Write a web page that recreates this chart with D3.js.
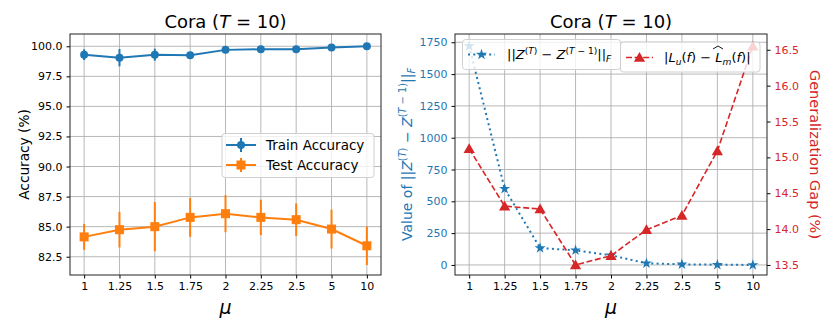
<!DOCTYPE html>
<html>
<head>
<meta charset="utf-8">
<script src="https://cdn.jsdelivr.net/npm/d3@7"></script>
<style>
  body { margin: 0; background: #fff; }
  text { font-family: "DejaVu Sans", sans-serif; }
</style>
</head>
<body>
<svg id="fig" width="830" height="332"></svg>
<script>
// values
let muLabels = ["1", "1.25", "1.5", "1.75", "2", "2.25", "2.5", "5", "10"];
let trainAcc = [99.3, 99.05, 99.3, 99.25, 99.7, 99.75, 99.75, 99.9, 100.0];
let trainErr = [0.45, 0.72, 0.5, 0.2, 0.1, 0.1, 0.1, 0.08, 0.05];
let testAcc = [84.15, 84.75, 85.0, 85.77, 86.08, 85.77, 85.58, 84.8, 83.41];
let testErr = [1.08, 1.48, 2.05, 1.62, 1.54, 1.47, 1.35, 1.62, 1.6];
let diffNorm = [1720, 599, 133, 115, 76, 13, 5, 2, 0];
let genGap = [15.12, 14.32, 14.28, 13.5, 13.63, 13.99, 14.19, 15.09, 16.55];

let accTicks = [82.5, 85.0, 87.5, 90.0, 92.5, 95.0, 97.5, 100.0];
let normTicks = [0, 250, 500, 750, 1000, 1250, 1500, 1750];
let gapTicks = [13.5, 14.0, 14.5, 15.0, 15.5, 16.0, 16.5];

let blue = "#1f77b4", orange = "#ff7f0e", red = "#d62728";
let gridColor = "#b0b0b0";

let svg = d3.select("#fig");

let plotTop = 34, plotBottom = 275;
let leftBox = {x0: 70, x1: 381};
let rightBox = {x0: 455, x1: 767};

// writes a text made of pieces: {t, it, sup, sub}
function mathText(sel, parts, size) {
    let shift = 0;
    parts.forEach(function (p) {
        let target = p.sup ? -0.42 * size : (p.sub ? 0.22 * size : 0);
        sel.append("tspan")
            .attr("dy", target - shift)
            .style("font-size", (p.sup || p.sub) ? (size * 0.7) + "px" : size + "px")
            .style("font-style", p.it ? "italic" : "normal")
            .text(p.t);
        shift = target;
    });
}

function grid(g, x, y, n, yTicks, x0, x1) {
    for (let i = 0; i < n; i++) {
        g.append("line")
            .attr("x1", x(i)).attr("x2", x(i))
            .attr("y1", plotTop).attr("y2", plotBottom)
            .attr("stroke", gridColor).attr("stroke-width", 0.9);
    }
    yTicks.forEach(function (t) {
        g.append("line")
            .attr("x1", x0).attr("x2", x1)
            .attr("y1", y(t)).attr("y2", y(t))
            .attr("stroke", gridColor).attr("stroke-width", 0.9);
    });
}

function frame(g, x0, x1) {
    g.append("rect")
        .attr("x", x0).attr("y", plotTop)
        .attr("width", x1 - x0).attr("height", plotBottom - plotTop)
        .attr("fill", "none").attr("stroke", "#222").attr("stroke-width", 1);
}

function xAxis(g, x) {
    let ax = g.append("g")
        .attr("transform", "translate(0," + plotBottom + ")")
        .call(d3.axisBottom(x).tickValues(d3.range(muLabels.length))
            .tickFormat(function (i) { return muLabels[i]; })
            .tickSizeOuter(0).tickSize(3.5).tickPadding(4));
    ax.select(".domain").remove();
    ax.selectAll("text").style("font-size", "11px").attr("fill", "#000");
}

function title(cx) {
    let t = svg.append("text")
        .attr("x", cx).attr("y", 27.5)
        .attr("text-anchor", "middle");
    mathText(t, [{t: "Cora ("}, {t: "T", it: true}, {t: " = 10)"}], 18);
}

function muLabel(cx) {
    svg.append("text")
        .attr("x", cx).attr("y", 314)
        .attr("text-anchor", "middle")
        .style("font-size", "19px").style("font-style", "italic")
        .text("μ");
}

// ---------- left panel ----------
let x1 = d3.scaleLinear().domain([-0.4, 8.4]).range([leftBox.x0, leftBox.x1]);
let yAcc = d3.scaleLinear().domain([80.98, 101.02]).range([plotBottom, plotTop]);

let g1 = svg.append("g");
grid(g1, x1, yAcc, muLabels.length, accTicks, leftBox.x0, leftBox.x1);

let yAx1 = g1.append("g")
    .attr("transform", "translate(" + leftBox.x0 + ",0)")
    .call(d3.axisLeft(yAcc).tickValues(accTicks).tickFormat(d3.format(".1f"))
        .tickSizeOuter(0).tickSize(3.5).tickPadding(4));
yAx1.select(".domain").remove();
yAx1.selectAll("text").style("font-size", "11px").attr("fill", "#000");
xAxis(g1, x1);

function errSeries(g, vals, errs, color, marker) {
    let line = d3.line().x(function (d, i) { return x1(i); }).y(function (d) { return yAcc(d); });
    g.append("path").datum(vals)
        .attr("d", line).attr("fill", "none")
        .attr("stroke", color).attr("stroke-width", 2);
    vals.forEach(function (v, i) {
        g.append("line")
            .attr("x1", x1(i)).attr("x2", x1(i))
            .attr("y1", yAcc(v - errs[i])).attr("y2", yAcc(v + errs[i]))
            .attr("stroke", color).attr("stroke-width", 2);
        if (marker === "circle") {
            g.append("circle").attr("cx", x1(i)).attr("cy", yAcc(v)).attr("r", 4).attr("fill", color);
        } else {
            g.append("rect").attr("x", x1(i) - 4.5).attr("y", yAcc(v) - 4.5)
                .attr("width", 9).attr("height", 9).attr("fill", color);
        }
    });
}
errSeries(g1, trainAcc, trainErr, blue, "circle");
errSeries(g1, testAcc, testErr, orange, "square");
frame(g1, leftBox.x0, leftBox.x1);

// legend
let lg1 = svg.append("g");
lg1.append("rect")
    .attr("x", 222).attr("y", 133.5).attr("width", 152).attr("height", 44).attr("rx", 3)
    .attr("fill", "#fff").attr("fill-opacity", 0.8).attr("stroke", "#d0d0d0");
[["Train Accuracy", blue, "circle", 145], ["Test Accuracy", orange, "square", 165]].forEach(function (e) {
    let y = e[3];
    lg1.append("line").attr("x1", 226).attr("x2", 256).attr("y1", y).attr("y2", y)
        .attr("stroke", e[1]).attr("stroke-width", 2);
    lg1.append("line").attr("x1", 241).attr("x2", 241).attr("y1", y - 7).attr("y2", y + 7)
        .attr("stroke", e[1]).attr("stroke-width", 2);
    if (e[2] === "circle") {
        lg1.append("circle").attr("cx", 241).attr("cy", y).attr("r", 4).attr("fill", e[1]);
    } else {
        lg1.append("rect").attr("x", 236.5).attr("y", y - 4.5).attr("width", 9).attr("height", 9).attr("fill", e[1]);
    }
    lg1.append("text").attr("x", 266).attr("y", y + 5)
        .style("font-size", "13.5px").text(e[0]);
});

title((leftBox.x0 + leftBox.x1) / 2);
muLabel((leftBox.x0 + leftBox.x1) / 2);
svg.append("text")
    .attr("transform", "translate(29," + ((plotTop + plotBottom) / 2) + ") rotate(-90)")
    .attr("text-anchor", "middle")
    .style("font-size", "13.7px")
    .text("Accuracy (%)");

// ---------- right panel ----------
let x2 = d3.scaleLinear().domain([-0.4, 8.4]).range([rightBox.x0, rightBox.x1]);
let yNorm = d3.scaleLinear().domain([-79, 1815]).range([plotBottom, plotTop]);
let yGap = d3.scaleLinear().domain([13.36, 16.72]).range([plotBottom, plotTop]);

let g2 = svg.append("g");
grid(g2, x2, yNorm, muLabels.length, normTicks, rightBox.x0, rightBox.x1);

let yAx2 = g2.append("g")
    .attr("transform", "translate(" + rightBox.x0 + ",0)")
    .call(d3.axisLeft(yNorm).tickValues(normTicks).tickFormat(d3.format("d"))
        .tickSizeOuter(0).tickSize(3.5).tickPadding(4));
yAx2.select(".domain").remove();
yAx2.selectAll("text").style("font-size", "11px").attr("fill", blue);

let yAx3 = g2.append("g")
    .attr("transform", "translate(" + rightBox.x1 + ",0)")
    .call(d3.axisRight(yGap).tickValues(gapTicks).tickFormat(d3.format(".1f"))
        .tickSizeOuter(0).tickSize(3.5).tickPadding(4));
yAx3.select(".domain").remove();
yAx3.selectAll("text").style("font-size", "11px").attr("fill", red);
xAxis(g2, x2);

let star = d3.symbol().type(d3.symbolStar).size(38);
let tri = d3.symbol().type(d3.symbolTriangle).size(55);

// blue series + its legend (first axes)
g2.append("path").datum(diffNorm)
    .attr("d", d3.line().x(function (d, i) { return x2(i); }).y(function (d) { return yNorm(d); }))
    .attr("fill", "none").attr("stroke", blue).attr("stroke-width", 2)
    .attr("stroke-dasharray", "2,3.3");
diffNorm.forEach(function (v, i) {
    g2.append("path").attr("d", star)
        .attr("transform", "translate(" + x2(i) + "," + yNorm(v) + ")")
        .attr("fill", blue);
});

let lgB = svg.append("g");
lgB.append("rect")
    .attr("x", 462.5).attr("y", 39.5).attr("width", 158).attr("height", 30).attr("rx", 3)
    .attr("fill", "#fff").attr("fill-opacity", 0.8).attr("stroke", "#d0d0d0");
lgB.append("line").attr("x1", 468).attr("x2", 495).attr("y1", 54.5).attr("y2", 54.5)
    .attr("stroke", blue).attr("stroke-width", 2).attr("stroke-dasharray", "2,3.3");
lgB.append("path").attr("d", star).attr("transform", "translate(481.5,54.5)").attr("fill", blue);
let tB = lgB.append("text").attr("x", 507).attr("y", 59);
mathText(tB, [
    {t: "||"}, {t: "Z", it: true}, {t: "(", sup: true}, {t: "T", sup: true, it: true}, {t: ")", sup: true},
    {t: " − "}, {t: "Z", it: true}, {t: "(", sup: true}, {t: "T", sup: true, it: true}, {t: " − 1)", sup: true},
    {t: "||"}, {t: "F", sub: true, it: true}
], 13);

// red series + its legend (twin axes, drawn on top)
g2.append("path").datum(genGap)
    .attr("d", d3.line().x(function (d, i) { return x2(i); }).y(function (d) { return yGap(d); }))
    .attr("fill", "none").attr("stroke", red).attr("stroke-width", 1.6)
    .attr("stroke-dasharray", "6,2.6");
genGap.forEach(function (v, i) {
    g2.append("path").attr("d", tri)
        .attr("transform", "translate(" + x2(i) + "," + (yGap(v) + 1) + ")")
        .attr("fill", red);
});
frame(g2, rightBox.x0, rightBox.x1);

let lgR = svg.append("g");
lgR.append("rect")
    .attr("x", 620.5).attr("y", 42).attr("width", 139.5).attr("height", 30).attr("rx", 3)
    .attr("fill", "#fff").attr("fill-opacity", 0.8).attr("stroke", "#d0d0d0");
lgR.append("line").attr("x1", 626).attr("x2", 653).attr("y1", 57.5).attr("y2", 57.5)
    .attr("stroke", red).attr("stroke-width", 1.6).attr("stroke-dasharray", "6,2.6");
lgR.append("path").attr("d", tri).attr("transform", "translate(639.5,58.5)").attr("fill", red);
let tR = lgR.append("text").attr("x", 664).attr("y", 62);
mathText(tR, [
    {t: "|"}, {t: "L", it: true}, {t: "u", sub: true, it: true}, {t: "("}, {t: "f", it: true}, {t: ") − "},
    {t: "L", it: true}, {t: "m", sub: true, it: true}, {t: "("}, {t: "f", it: true}, {t: ")|"}
], 13);
// wide hat over the second L
lgR.append("path")
    .attr("d", "M713,49 L718,46 L723,49")
    .attr("fill", "none").attr("stroke", "#000").attr("stroke-width", 0.9);

title((rightBox.x0 + rightBox.x1) / 2);
muLabel((rightBox.x0 + rightBox.x1) / 2);

let lb = svg.append("text")
    .attr("transform", "translate(412," + ((plotTop + plotBottom) / 2) + ") rotate(-90)")
    .attr("text-anchor", "middle")
    .attr("fill", blue);
mathText(lb, [
    {t: "Value of ||"}, {t: "Z", it: true}, {t: "(", sup: true}, {t: "T", sup: true, it: true}, {t: ")", sup: true},
    {t: " − "}, {t: "Z", it: true}, {t: "(", sup: true}, {t: "T", sup: true, it: true}, {t: " − 1)", sup: true},
    {t: "||"}, {t: "F", sub: true, it: true}
], 14);

svg.append("text")
    .attr("transform", "translate(810," + ((plotTop + plotBottom) / 2) + ") rotate(90)")
    .attr("text-anchor", "middle")
    .attr("fill", red)
    .style("font-size", "14.5px")
    .text("Generalization Gap (%)");
</script>
</body>
</html>
